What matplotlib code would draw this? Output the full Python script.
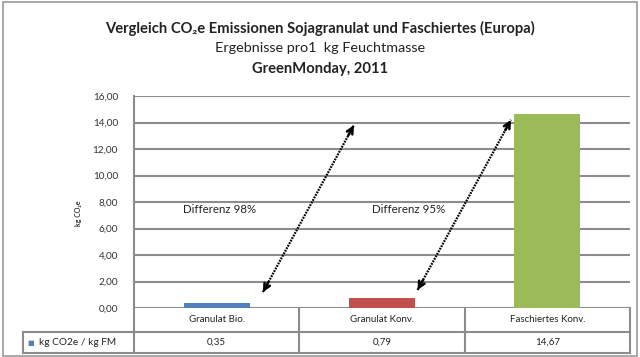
import matplotlib
matplotlib.use("Agg")
from matplotlib import pyplot as plt
from matplotlib.patches import Rectangle

plt.rcParams['font.family'] = ['Lato', 'DejaVu Sans']

categories = ['Granulat Bio.', 'Granulat Konv.', 'Faschiertes Konv.']
values = [0.35, 0.79, 14.67]
colors = ['#4F81BD', '#C0504D', '#9BBB59']
series_name = 'kg CO2e / kg FM'
yticks = [0, 2, 4, 6, 8, 10, 12, 14, 16]

# arrows: (start, end) in data coords, and label positions
arrows = [((0.28, 1.2), (0.83, 13.8)), ((1.215, 1.36), (1.78, 14.2))]
diff_labels = [(0.02, 7.4, 'Differenz 98%'), (1.16, 7.4, 'Differenz 95%')]

grid_col = '#8c8c8c'
txt_col = '#222222'

fig = plt.figure(figsize=(6.4, 3.57), dpi=100)
ax = fig.add_axes([134/640, 1-308/357, 496/640, 212/357])

x = list(range(len(categories)))
ax.bar(x, values, width=0.4, color=colors, zorder=3)
ax.set_xlim(-0.5, 2.5)
ax.set_ylim(0, 16)
ax.set_yticks(yticks)
ax.set_yticklabels([('%.2f' % v).replace('.', ',') for v in yticks],
                   fontsize=7.2, color='#333333')
ax.yaxis.set_tick_params(length=0, pad=11.5)
ax.set_xticks([])
ax.grid(axis='y', color=grid_col, linewidth=1.5, zorder=0)
for s in ['top', 'right', 'bottom']:
    ax.spines[s].set_visible(False)
ax.spines['left'].set_color(grid_col)
ax.spines['left'].set_linewidth(1.5)

# dotted double arrows
for (x0, y0), (x1, y1) in arrows:
    ax.plot([x0, x1], [y0, y1], color='black', lw=1.6, linestyle=(0, (0.8, 0.5)),
            zorder=5)
    for (ax0, ay0), (ax1, ay1) in [((x0, y0), (x1, y1)), ((x1, y1), (x0, y0))]:
        bx = ax1 - 0.06 * (ax1 - ax0)
        by = ay1 - 0.06 * (ay1 - ay0)
        ax.annotate('', xy=(ax1, ay1), xytext=(bx, by),
                    arrowprops=dict(arrowstyle='->', color='black', lw=1.8,
                                    mutation_scale=11, shrinkA=0, shrinkB=0),
                    zorder=6)
for tx, ty, t in diff_labels:
    ax.text(tx, ty, t, fontsize=8.3, ha='center', va='center', color=txt_col)

# data table under the plot
tr = ax.get_xaxis_transform()
r1 = -24/212
r2 = -45/212
left = -0.5 - 111/165
kw = dict(color=grid_col, lw=1.5, transform=tr, clip_on=False)
ax.plot([left, 2.5], [r1, r1], **kw)
ax.plot([left, 2.5], [r2, r2], **kw)
ax.plot([-0.5, -0.5], [r2, 0], **kw)
ax.plot([left, left], [r2, r1], **kw)
for i in x:
    ax.plot([i + 0.5, i + 0.5], [r2, 0], **kw)
    ax.text(i, r1/2, categories[i], transform=tr, fontsize=7, ha='center',
            va='center', color=txt_col)
    ax.text(i, (r1 + r2)/2, ('%.2f' % values[i]).replace('.', ','), transform=tr,
            fontsize=7, ha='center', va='center', color=txt_col)
ax.text(left + 0.025, (r1 + r2)/2, '\u25a0', transform=tr, fontsize=5,
        ha='left', va='center', color=colors[0])
ax.text(left + 0.1, (r1 + r2)/2, series_name, transform=tr, fontsize=7.3,
        ha='left', va='center', color=txt_col)

# y axis label
fig.text(78/640, 1-213/357, 'kg CO\u2082e', rotation=90, fontsize=5,
         fontweight='bold', ha='center', va='center', color='#333333')

# titles
fig.text(0.5, 1-28/357, 'Vergleich CO\u2082e Emissionen Sojagranulat und Faschiertes (Europa)',
         ha='center', va='center', fontsize=10.6, fontweight='bold', color=txt_col)
fig.text(0.5, 1-48/357, 'Ergebnisse pro1  kg Feuchtmasse',
         ha='center', va='center', fontsize=10.4, color=txt_col)
fig.text(0.5, 1-69/357, 'GreenMonday, 2011',
         ha='center', va='center', fontsize=10.6, fontweight='bold', color=txt_col)

fig.patches.append(Rectangle((0.004, 0.004), 0.992, 0.99, transform=fig.transFigure,
                             fill=False, edgecolor='#999999', lw=1.2))

plt.savefig('out.png', dpi=100)
